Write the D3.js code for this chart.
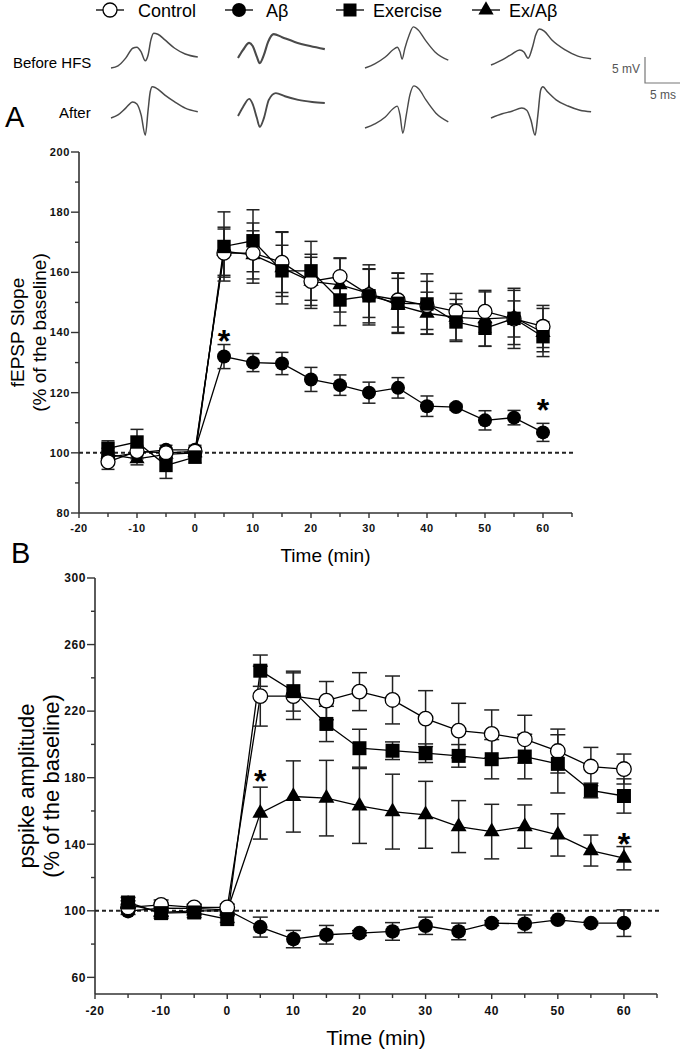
<!DOCTYPE html>
<html><head><meta charset="utf-8">
<script src="https://cdn.jsdelivr.net/npm/d3@7"></script>
<style>html,body{margin:0;padding:0;background:#fff}svg{display:block}text{font-family:"Liberation Sans",Arial,sans-serif}</style>
</head><body>
<svg id="c" width="681" height="1050"></svg>
<script>
// ---------- data ----------
const times = [-15,-10,-5,0,5,10,15,20,25,30,35,40,45,50,55,60];
const groups = ["Control","Aβ","Exercise","Ex/Aβ"];

// Panel A : fEPSP slope (% of baseline)
const ctrlA     = [97,100.5,100,100.5,166.4,166.4,163.3,157,158.6,152.5,150.8,149,147,147,144.5,142];
const ctrlAErr  = [2.5,2,1.5,1.5,8,10,10,9,6,10,9,8,4,7,6,7];
const abA       = [98.5,100,101,101,132,130,129.7,124.4,122.5,120,121.6,115.5,115.2,110.8,111.7,106.8];
const abAErr    = [2,2,1.5,1.5,4,3,3.7,4,3.4,3.5,3.4,3.4,1,3.2,2.4,3];
const exA       = [101.5,103.6,95.8,98.6,168.6,170.5,160.5,160.5,150.8,152.2,149.7,149.5,143.5,141.4,144.7,138.6];
const exAErr    = [2.5,4.2,4.3,2,11.5,10.3,8.5,9.8,8.5,9,10,10,6,6,10,5];
const exabA     = [99.5,98,99.5,100,167,165.8,161.5,157,155.8,153,149,146.4,145,144.5,145,140];
const exabAErr  = [2,2,1.5,1.5,8,8,12,8,9,8,9,7,8,9,9,8];

// Panel B : pspike amplitude (% of baseline)
const ctrlB     = [102,103.5,102,102,229,229,226.3,231.7,226.7,215.5,208.3,206.3,203.1,196,186.7,185.2];
const ctrlBErr  = [2,3,2,2,18,14,11.5,11.4,14.4,16.8,16.4,14.4,14.4,13.2,11.5,9];
const abB       = [99.8,101.6,101.5,100.6,90.2,83,85.6,86.6,87.6,91,87.6,92.6,92.2,94.6,92.6,92.6];
const abBErr    = [2,2,2,1.5,6,5.2,5.6,1.5,5.3,5.2,5,1.5,5.3,1,1,8];
const exB       = [105,98.6,99,95,244.3,232,212.3,197.7,196.2,194.7,193.1,191.1,192.7,188.3,172.3,169];
const exBErr    = [3,3,3,2,9.4,12,10.6,11.4,5.3,5.6,6.8,11.8,13.4,17.5,4.4,10.3];
const exabB     = [104,99,100,100,158.7,168.7,167.7,163,159.6,157.7,150.6,147.6,150.6,145.6,136.2,131.6];
const exabBErr  = [2,2,2,2,15.6,21.4,22.7,22.5,22.5,20.1,15.6,16.4,13,12.7,9.3,7];

// significance marks [time, value]
const starsA = [[5,139.2],[60,116.2]];
const starsB = [[5,181.7],[60,143.8]];

// axis ticks
const xMajor = [-20,-10,0,10,20,30,40,50,60];
const xMinor = [-15,-5,5,15,25,35,45,55,65];
const yMajorA = [80,100,120,140,160,180,200];
const yMinorA = [90,110,130,150,170,190];
const yMajorB = [60,100,140,180,220,260,300];
const yMinorB = [80,120,160,200,240,280];

// example traces [ms, mV] relative to trace start
const trCtrlBefore = [[0,0],[1,0.4],[2.1,1.9],[3.1,3.8],[3.7,4.0],[4.3,3.1],[4.9,1.4],[5.3,2.5],[5.7,5.4],[6.1,6.7],[6.7,6.5],[7.7,5.4],[9.1,3.8],[10.6,2.7],[12.4,2.1]];
const trCtrlAfter  = [[0,0],[1,0.6],[2.1,1.9],[3.1,3.1],[3.7,2.7],[4.3,0.6],[4.9,-3.3],[5.3,1.5],[5.6,5.0],[5.9,6.0],[6.4,5.8],[7.7,4.4],[9.1,3.1],[10.6,1.9],[12.4,1.2]];
const trAbBefore   = [[0,0],[0.7,1.5],[1.6,2.9],[2.1,2.3],[2.7,0.2],[3.1,-1],[3.7,0.6],[4.3,3.1],[5.1,4.6],[6.3,4.0],[8.1,3.1],[10.3,2.3],[12.4,1.7]];
const trAbAfter    = [[0,0],[0.7,1.7],[1.6,3.3],[2.1,2.3],[2.7,-0.4],[3.1,-2.1],[3.7,-0.4],[4.4,3.1],[5.4,4.4],[6.7,3.8],[8.6,3.1],[10.6,2.7],[12.4,2.5]];
const trExBefore   = [[0,0],[1.4,0.8],[2.9,2.1],[4,3.5],[4.6,4],[5,3.1],[5.3,1.7],[5.7,3.8],[6.3,6.3],[6.9,7.9],[7.6,7.3],[8.6,5.4],[10,3.1],[11.9,1.5]];
const trExAfter    = [[0,0],[1.4,0.8],[2.9,2.1],[4,3.7],[4.6,4.2],[5,2.5],[5.4,-1],[5.9,2.5],[6.4,6.3],[7,8.1],[7.7,7.5],[8.7,5.4],[10.1,2.9],[11.9,1.2]];
const trExAbBefore = [[0,0],[1.6,1],[3,2.1],[4.1,2.9],[4.7,2.5],[5.3,1.3],[5.9,3.3],[6.4,5.8],[6.9,6.9],[7.6,6.5],[8.7,4.8],[10.6,2.9],[12.4,1.7],[14.3,1.2]];
const trExAbAfter  = [[0,0],[1.6,0.8],[3,1.3],[4.4,1.9],[5.1,1.5],[5.7,-0.4],[6.3,-3.3],[6.7,0.6],[7.1,5.4],[7.4,6],[8.1,5],[9.3,3.5],[11,2.3],[12.7,1.5],[14.3,1.2]];

// ---------- drawing ----------
const svg = d3.select("#c");
const AX = "#333";

const symFns = {
  "Control": (g,r)=> g.append("circle").attr("r",r).attr("fill","#fff").attr("stroke","#000").attr("stroke-width",1.3),
  "Aβ":      (g,r)=> g.append("circle").attr("r",r).attr("fill","#000"),
  "Exercise":(g,r)=> g.append("path").attr("d",d3.symbol(d3.symbolSquare, (2*r)*(2*r))()).attr("fill","#000"),
  "Ex/Aβ":   (g,r)=> g.append("path").attr("d",d3.symbol(d3.symbolTriangle, 2.05*r*r)()).attr("fill","#000")
};

// legend
const legendX = [110,239,350,486];
const legendTextX = [138,266,373,509];
groups.forEach((name,i)=>{
  const g = svg.append("g").attr("transform",`translate(${legendX[i]},10)`);
  g.append("line").attr("x1",-14).attr("x2",14).attr("stroke","#000").attr("stroke-width",1.3);
  symFns[name](g, name==="Exercise"?6.5:7);
  svg.append("text").attr("x",legendTextX[i]).attr("y",17).attr("font-size",18).attr("fill","#000").text(name);
});

// traces
const msScale = d3.scaleLinear().domain([0,5]).range([0,35]);
const mvScale = d3.scaleLinear().domain([0,5]).range([0,-26]);
const traceLine = d3.line().x(d=>msScale(d[0])).y(d=>mvScale(d[1])).curve(d3.curveMonotoneX);
const traceSets = [
  [trCtrlBefore,111,68,1.5],[trCtrlAfter,111,118,1.5],
  [trAbBefore,238,58,2.1],[trAbAfter,238,116,1.9],
  [trExBefore,365,68,1.4],[trExAfter,365,128,1.4],
  [trExAbBefore,491,65,1.5],[trExAbAfter,491,118,1.5]
];
traceSets.forEach(([d,x,y,w])=>{
  svg.append("path").attr("transform",`translate(${x},${y})`).attr("d",traceLine(d))
    .attr("fill","none").attr("stroke","#4a4a4a").attr("stroke-width",w);
});
svg.append("text").attr("x",13).attr("y",68).attr("font-size",15).text("Before HFS");
svg.append("text").attr("x",59).attr("y",118).attr("font-size",15).text("After");
// scale bar
const sb = svg.append("g").attr("transform","translate(645,83)");
sb.append("path").attr("d",`M0,${mvScale(5)}V0H${msScale(5)}`).attr("fill","none").attr("stroke","#777").attr("stroke-width",1.2);
svg.append("text").attr("x",640).attr("y",73).attr("text-anchor","end").attr("font-size",12).attr("fill","#555").text("5 mV");
svg.append("text").attr("x",663).attr("y",99).attr("text-anchor","middle").attr("font-size",12).attr("fill","#555").text("5 ms");

// panel letters
svg.append("text").attr("x",5).attr("y",127).attr("font-size",29).text("A");
svg.append("text").attr("x",11).attr("y",563).attr("font-size",29).text("B");

function panel(opt){
  const x = d3.scaleLinear().domain([-20,65]).range(opt.xr);
  const y = d3.scaleLinear().domain(opt.yd).range(opt.yr);
  const g = svg.append("g");
  const x0 = opt.xr[0], yb = opt.yr[0];
  g.append("line").attr("x1",x0).attr("x2",x0).attr("y1",opt.yr[1]).attr("y2",yb).attr("stroke",AX).attr("stroke-width",1.6);
  g.append("line").attr("x1",x0).attr("x2",opt.xr[1]).attr("y1",yb).attr("y2",yb).attr("stroke",AX).attr("stroke-width",1.6);
  opt.yMaj.forEach(v=>{
    g.append("line").attr("x1",x0-8).attr("x2",x0).attr("y1",y(v)).attr("y2",y(v)).attr("stroke",AX).attr("stroke-width",1.4);
    g.append("text").attr("x",x0-9).attr("y",y(v)+opt.tfs*0.36).attr("text-anchor","end")
      .attr("font-size",opt.tfs).attr("font-weight","bold").attr("letter-spacing",0.6).attr("fill","#111").text(v);
  });
  opt.yMin.forEach(v=>{
    g.append("line").attr("x1",x0-4).attr("x2",x0).attr("y1",y(v)).attr("y2",y(v)).attr("stroke",AX).attr("stroke-width",1.4);
  });
  xMajor.forEach(v=>{
    g.append("line").attr("x1",x(v)).attr("x2",x(v)).attr("y1",yb).attr("y2",yb+5).attr("stroke",AX).attr("stroke-width",1.4);
    g.append("text").attr("x",x(v)).attr("y",yb+opt.xlOff).attr("text-anchor","middle")
      .attr("font-size",opt.tfs).attr("font-weight","bold").attr("letter-spacing",0.6).attr("fill","#111").text(v);
  });
  xMinor.forEach(v=>{
    g.append("line").attr("x1",x(v)).attr("x2",x(v)).attr("y1",yb).attr("y2",yb+4).attr("stroke",AX).attr("stroke-width",1.4);
  });
  g.append("text").attr("x",(opt.xr[0]+opt.xr[1])/2).attr("y",opt.xtY).attr("text-anchor","middle")
    .attr("font-size",opt.lfs).text("Time (min)");
  const yc = (opt.yr[0]+opt.yr[1])/2;
  opt.ylab.forEach((t,i)=>{
    g.append("text").attr("transform",`translate(${opt.ylx[i]},${yc}) rotate(-90)`).attr("text-anchor","middle")
      .attr("font-size",opt.yfs).text(t);
  });
  g.append("line").attr("x1",x0).attr("x2",opt.xr[1]+2).attr("y1",y(100)).attr("y2",y(100))
    .attr("stroke","#222").attr("stroke-width",2).attr("stroke-dasharray","4,3");
  const line = d3.line().x(d=>x(d[0])).y(d=>y(d[1]));
  const order = opt.order;
  order.forEach(s=>{
    const pts = times.map((t,i)=>[t,s.v[i]]);
    g.append("path").attr("d",line(pts)).attr("fill","none").attr("stroke","#000").attr("stroke-width",1.3);
  });
  order.forEach(s=>{
    times.forEach((t,i)=>{
      const e = s.e[i], cx = x(t);
      const eg = g.append("g").attr("stroke","#222").attr("stroke-width",1.5);
      eg.append("line").attr("x1",cx).attr("x2",cx).attr("y1",y(s.v[i]+e)).attr("y2",y(s.v[i]-e));
      [s.v[i]+e, s.v[i]-e].forEach(v=>eg.append("line").attr("x1",cx-opt.cap).attr("x2",cx+opt.cap).attr("y1",y(v)).attr("y2",y(v)));
    });
  });
  order.forEach(s=>{
    times.forEach((t,i)=>{
      const sg = g.append("g").attr("transform",`translate(${x(t)},${y(s.v[i])})`);
      symFns[s.name](sg, s.name==="Exercise"?opt.r-0.3:opt.r);
    });
  });
  opt.stars.forEach(([t,v])=>{
    g.append("text").attr("x",x(t)).attr("y",y(v)+17).attr("text-anchor","middle")
      .attr("font-size",32).attr("font-weight","bold").text("*");
  });
}

panel({
  xr:[79,572], yd:[80,200], yr:[513,152], yMaj:yMajorA, yMin:yMinorA, tfs:11, xlOff:19,
  xtY:562, lfs:19, ylab:["fEPSP Slope","(% of the baseline)"], ylx:[24,46], yfs:19, cap:6.5, r:7,
  stars:starsA,
  order:[
    {name:"Ex/Aβ",v:exabA,e:exabAErr},
    {name:"Aβ",v:abA,e:abAErr},
    {name:"Control",v:ctrlA,e:ctrlAErr},
    {name:"Exercise",v:exA,e:exAErr}
  ]
});
panel({
  xr:[95,657], yd:[50,300], yr:[994,578], yMaj:yMajorB, yMin:yMinorB, tfs:12, xlOff:21,
  xtY:1045, lfs:21, ylab:["pspike amplitude","(% of the baseline)"], ylx:[34,59], yfs:22, cap:7.5, r:7.3,
  stars:starsB,
  order:[
    {name:"Ex/Aβ",v:exabB,e:exabBErr},
    {name:"Aβ",v:abB,e:abBErr},
    {name:"Control",v:ctrlB,e:ctrlBErr},
    {name:"Exercise",v:exB,e:exBErr}
  ]
});
</script>
</body></html>
